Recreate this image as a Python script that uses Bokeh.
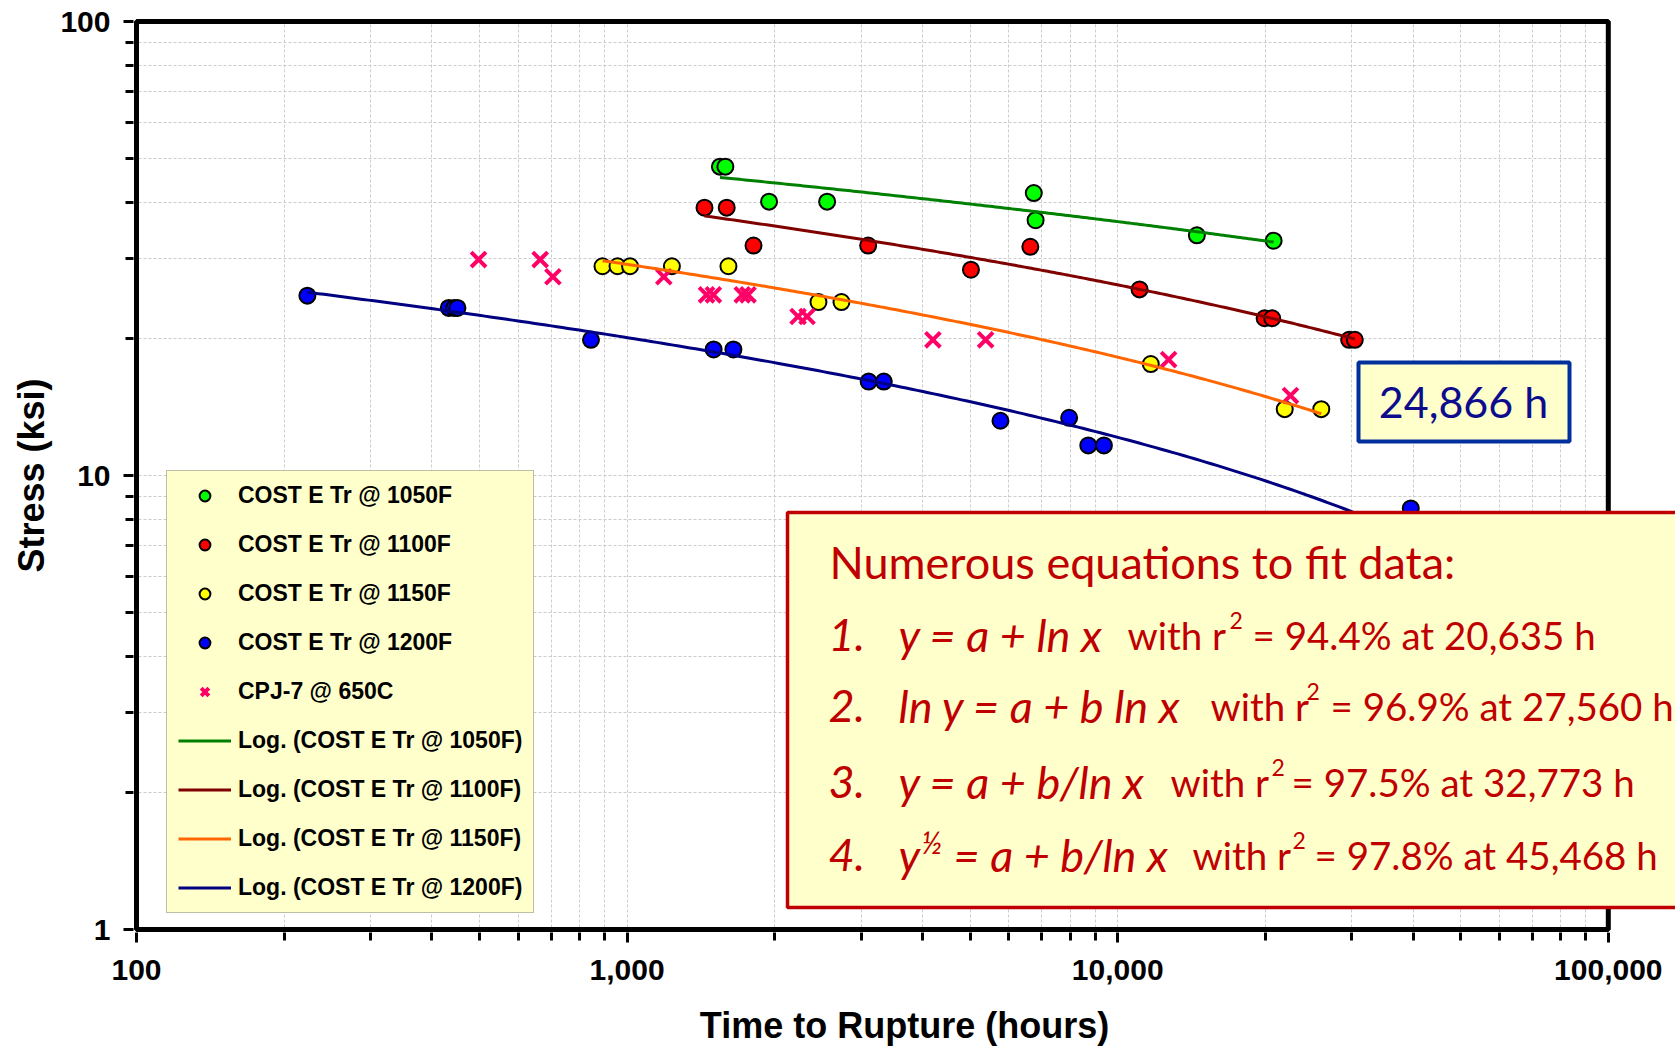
import numpy as np
from bokeh.plotting import figure
from bokeh.models import (FixedTicker, Legend, LegendItem, BoxAnnotation, Label, Range1d)
from bokeh.embed import file_html
from bokeh.resources import INLINE

# ---------------- data ----------------
t1050 = [1546, 1586, 1947, 2557, 6745, 6802, 14500, 20790]
s1050 = [47.9, 47.9, 40.1, 40.1, 41.9, 36.5, 33.8, 32.9]

t1100 = [1438, 1596, 1810, 3100, 5022, 6636, 11080, 19930, 20650, 29630, 30430]
s1100 = [38.9, 38.9, 32.1, 32.1, 28.4, 31.9, 25.7, 22.2, 22.2, 19.9, 19.9]

t1150 = [891, 956, 1014, 1234, 1609, 2455, 2735, 11680, 21900, 26000]
s1150 = [28.9, 28.9, 28.9, 28.9, 28.9, 24.1, 24.1, 17.6, 14.0, 14.0]

t1200 = [223, 433, 444, 451, 844, 1501, 1647, 3107, 3336, 5768, 7962, 8710, 9373, 39570]
s1200 = [24.9, 23.4, 23.4, 23.4, 19.9, 18.95, 18.95, 16.1, 16.1, 13.2, 13.4, 11.65, 11.65, 8.46]

t_cpj = [498, 665, 706, 1188, 1452, 1499, 1717, 1764, 2231, 2327, 4201, 5380, 12700, 22500]
s_cpj = [29.9, 29.9, 27.4, 27.4, 25.0, 25.0, 25.0, 25.0, 22.4, 22.4, 19.9, 19.9, 18.0, 15.0]

series_labels = ["COST E Tr @ 1050F", "COST E Tr @ 1100F", "COST E Tr @ 1150F",
                 "COST E Tr @ 1200F", "CPJ-7 @ 650C"]
trend_labels = ["Log. (COST E Tr @ 1050F)", "Log. (COST E Tr @ 1100F)",
                "Log. (COST E Tr @ 1150F)", "Log. (COST E Tr @ 1200F)"]

x_major = [100, 1000, 10000, 100000]
x_tick_labels = ["100", "1,000", "10,000", "100,000"]
x_minor = [m * d for d in (100, 1000, 10000) for m in range(2, 10)]
y_major = [1, 10, 100]
y_tick_labels = ["1", "10", "100"]
y_minor = [m * d for d in (1, 10) for m in range(2, 10)]

callout_text = "24,866 h"
box_title = "Numerous  equations to fit data:"
eq_numbers = ["1.", "2.", "3.", "4."]
eq_forms = ["y = a + ln x", "ln y = a + b ln x", "y = a + b/ln x", None]
eq_r2 = ["= 94.4% at 20,635 h", "= 96.9% at 27,560 h", "= 97.5% at 32,773 h",
         "= 97.8% at 45,468 h"]

# ---------------- geometry ----------------
FRAME_L, FRAME_T = 133, 18
FRAME_W, FRAME_H = 1542, 914
PAD = 3                      # px between frame edge and the plot border line
DEC_X = 490.6                # px per decade (x)
DEC_Y = 454.0                # px per decade (y)
x_start = 10 ** (2 - PAD / DEC_X)
x_end = 10 ** (2 + (FRAME_W - PAD) / DEC_X)
y_start = 10 ** (0 - PAD / DEC_Y)
y_end = 10 ** (0 + (FRAME_H - PAD) / DEC_Y)

p = figure(frame_width=FRAME_W, frame_height=FRAME_H,
           x_axis_type="log", y_axis_type="log",
           x_range=Range1d(x_start, x_end), y_range=Range1d(y_start, y_end),
           output_backend="svg", toolbar_location=None,
           min_border_left=FRAME_L, min_border_right=0, min_border_top=FRAME_T,
           min_border_bottom=0, outline_line_color=None,
           background_fill_color="white", border_fill_color="white")

xt = FixedTicker(ticks=x_major, minor_ticks=x_minor)
yt = FixedTicker(ticks=y_major, minor_ticks=y_minor)
p.xaxis.ticker = xt
p.yaxis.ticker = yt
p.xgrid.ticker = xt
p.ygrid.ticker = yt
p.xaxis.major_label_overrides = {v: s for v, s in zip(x_major, x_tick_labels)}
p.yaxis.major_label_overrides = {v: s for v, s in zip(y_major, y_tick_labels)}

for g in (p.xgrid[0], p.ygrid[0]):
    g.grid_line_color = "#cccccc"
    g.grid_line_dash = "3 2"
    g.grid_line_width = 1
    g.minor_grid_line_color = "#cccccc"
    g.minor_grid_line_dash = "3 2"
    g.minor_grid_line_width = 1

for ax in (p.xaxis[0], p.yaxis[0]):
    ax.axis_line_color = None
    ax.major_tick_line_width = 3
    ax.major_tick_out = 10
    ax.major_tick_in = 0
    ax.minor_tick_line_width = 3
    ax.minor_tick_out = 8
    ax.minor_tick_in = 0
    ax.major_label_text_font = "Liberation Sans"
    ax.major_label_text_font_style = "bold"
    ax.major_label_text_font_size = "30px"
    ax.major_label_text_color = "black"
    ax.axis_label_text_font = "Liberation Sans"
    ax.axis_label_text_font_style = "bold"
    ax.axis_label_text_font_size = "36px"
    ax.axis_label_text_color = "black"

p.xaxis.axis_label = "Time to Rupture (hours)"
p.yaxis.axis_label = "Stress (ksi)"
p.xaxis.major_label_standoff = 17
p.xaxis.axis_label_standoff = 22
p.yaxis.major_label_standoff = 13
p.yaxis.axis_label_standoff = 5

# ---------------- glyphs ----------------
fills = ["#00FF00", "#FF0000", "#FFFF00", "#0000FF"]
times = [t1050, t1100, t1150, t1200]
stresses = [s1050, s1100, s1150, s1200]
trend_colors = ["#008000", "#800000", "#FF6600", "#000080"]

scatter_r = []
for t, s, c in zip(times, stresses, fills):
    scatter_r.append(p.scatter(t, s, marker="circle", size=16, fill_color=c,
                               line_color="black", line_width=2))
scatter_r.append(p.scatter(t_cpj, s_cpj, marker="x", size=21, line_color="#FF0066",
                           line_width=4))


def log_trend(t, s):
    b, a = np.polyfit(np.log(t), s, 1)
    xs = np.geomspace(min(t), max(t), 200)
    return xs, a + b * np.log(xs)


trend_r = []
for t, s, c in zip(times, stresses, trend_colors):
    xs, ys = log_trend(t, s)
    trend_r.append(p.line(xs, ys, line_color=c, line_width=3))

# ---------------- plot-area border (drawn over grid) ----------------
p.add_layout(BoxAnnotation(left=x_major[-1], fill_color="white", fill_alpha=1,
                           line_color=None))
p.add_layout(BoxAnnotation(left=x_major[0], right=x_major[-1],
                           bottom=y_major[0], top=y_major[-1],
                           fill_alpha=0, line_color="black", line_width=5, line_alpha=1))

legend = Legend(items=[LegendItem(label=l, renderers=[r])
                       for l, r in zip(series_labels + trend_labels, scatter_r + trend_r)],
                location=(166 - FRAME_L, FRAME_T + FRAME_H - 913), margin=0,
                background_fill_color="#FFFFCC", background_fill_alpha=1,
                border_line_color="#7f7f7f", border_line_width=1.5,
                label_text_font="Liberation Sans", label_text_font_style="bold",
                label_text_font_size="23px", label_text_color="black",
                glyph_width=53, glyph_height=27, label_height=27, spacing=22,
                padding=11, label_standoff=7)
p.add_layout(legend)

# ---------------- annotation boxes ----------------
BOT = FRAME_T + FRAME_H      # page y of the frame bottom
TXT_DY = 17                  # label baseline correction


def sx(x):
    return x - FRAME_L


def sy(y):
    return BOT - y


red = "#C00000"
p.add_layout(BoxAnnotation(left=sx(787), right=sx(1720), bottom=sy(907), top=sy(512),
                           left_units="screen", right_units="screen",
                           bottom_units="screen", top_units="screen",
                           fill_color="#FFFFCC", fill_alpha=1,
                           line_color=red, line_width=3.5, line_alpha=1))
p.add_layout(BoxAnnotation(left=sx(1358), right=sx(1569), bottom=sy(441), top=sy(362),
                           left_units="screen", right_units="screen",
                           bottom_units="screen", top_units="screen",
                           fill_color="#FFFFCC", fill_alpha=1,
                           line_color="#00309C", line_width=4, line_alpha=1))


def lab(x, y, text, size, color=red, style="normal", align="left", font="Lato"):
    p.add_layout(Label(x=sx(x), y=sy(y - TXT_DY), x_units="screen", y_units="screen",
                       text=text, text_font=font, text_font_size=size, text_color=color,
                       text_font_style=style, text_align=align,
                       text_baseline="alphabetic"))


lab(1463, 418, callout_text, "43px", color="#0C0C8C", align="center")
lab(829, 578, box_title, "45px")

base_y = [651, 722, 798, 871]
with_x = [1127, 1210, 1170, 1192]
sup_x = [1229, 1306, 1271, 1292]
eq_x = [1252, 1330, 1291, 1314]
for i in range(4):
    yb = base_y[i]
    lab(828, yb, eq_numbers[i], "45px", style="italic")
    if eq_forms[i] is not None:
        lab(898, yb, eq_forms[i], "45px", style="italic")
    else:
        lab(898, yb, "y", "45px", style="italic")
        lab(921, yb - 13, "\u00bd", "30px", style="italic")
        lab(953, yb, "= a + b/ln x", "45px", style="italic")
    lab(with_x[i], yb, "with r", "38.5px")
    lab(sup_x[i], yb - 14, "2", "23px")
    lab(eq_x[i], yb, eq_r2[i], "38.5px")

open("out.html", "w").write(file_html(p, INLINE))
